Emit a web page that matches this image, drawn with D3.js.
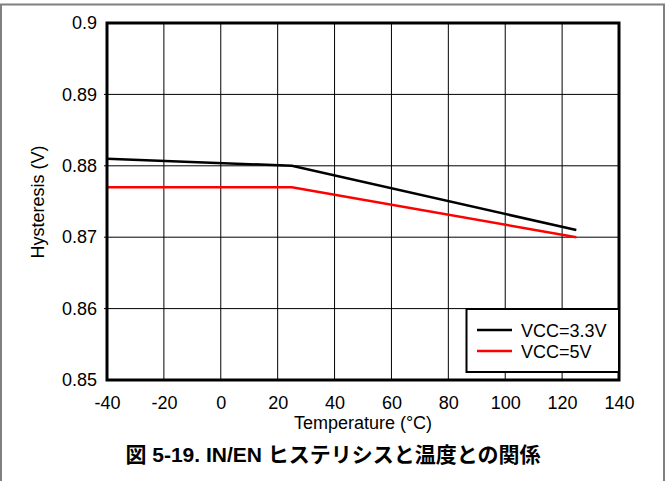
<!DOCTYPE html>
<html><head><meta charset="utf-8">
<script src="https://cdn.jsdelivr.net/npm/d3@7"></script>
<style>body{margin:0;background:#fff}svg{display:block}</style>
</head><body>
<script>
const temps33 = [-40, 25, 125];
const vals33 = [0.881, 0.880, 0.871];
const temps5 = [-40, 25, 125];
const vals5 = [0.877, 0.877, 0.870];
const seriesNames = ["VCC=3.3V", "VCC=5V"];
const seriesColors = ["#000000", "#ff0000"];
const xTicks = [-40, -20, 0, 20, 40, 60, 80, 100, 120, 140];
const yTicks = [0.85, 0.86, 0.87, 0.88, 0.89, 0.9];

const W = 666, H = 481;
const svg = d3.select("body").append("svg").attr("width", W).attr("height", H);
const font = "Arial, 'Liberation Sans', sans-serif";
const fs = 18;

// outer frame
svg.append("path").attr("d", `M1,${H+2} L1,4.5 L664,4.5 L664,${H+2}`)
  .attr("fill", "none").attr("stroke", "#808080").attr("stroke-width", 2);

const L = 107, R = 619, T = 23, B = 380;
const x = d3.scaleLinear().domain([-40, 140]).range([L, R]);
const y = d3.scaleLinear().domain([0.85, 0.9]).range([B, T]);

// grid
const g = svg.append("g");
g.selectAll(".vx").data(xTicks.slice(1, -1)).enter().append("line")
  .attr("x1", d => x(d)).attr("x2", d => x(d)).attr("y1", T).attr("y2", B)
  .attr("stroke", "#000").attr("stroke-width", 1);
g.selectAll(".hy").data(yTicks.slice(1, -1)).enter().append("line")
  .attr("x1", L - 3).attr("x2", R).attr("y1", d => y(d)).attr("y2", d => y(d))
  .attr("stroke", "#000").attr("stroke-width", 1);

// axes labels via d3 axes
const xAxis = svg.append("g").attr("transform", `translate(0,${B})`)
  .call(d3.axisBottom(x).tickValues(xTicks).tickSize(0).tickPadding(16).tickFormat(d => String(d)));
const yAxis = svg.append("g").attr("transform", `translate(${L},0)`)
  .call(d3.axisLeft(y).tickValues(yTicks).tickSize(0).tickPadding(10).tickFormat(d => d === 0.9 ? "0.9" : d3.format(".2f")(d)));
[xAxis, yAxis].forEach(a => {
  a.attr("font-size", fs).attr("font-family", font);
  a.select(".domain").remove();
  a.selectAll("text").style("font-size", fs + "px").style("font-family", font).attr("fill", "#000");
});

// lines
const line = d3.line().x(d => x(d[0])).y(d => y(d[1]));
const data = [d3.zip(temps33, vals33), d3.zip(temps5, vals5)];
svg.selectAll(".series").data(data).enter().append("path")
  .attr("d", line).attr("fill", "none")
  .attr("stroke", (d, i) => seriesColors[i]).attr("stroke-width", 2.5);

// plot border
svg.append("rect").attr("x", L).attr("y", T).attr("width", R - L).attr("height", B - T)
  .attr("fill", "none").attr("stroke", "#000").attr("stroke-width", 3);

// legend
const lg = svg.append("g");
lg.append("rect").attr("x", 466.5).attr("y", 309).attr("width", R - 466.5).attr("height", 63)
  .attr("fill", "#fff").attr("stroke", "#000").attr("stroke-width", 2);
seriesNames.forEach((n, i) => {
  const yy = 330 + i * 21;
  lg.append("line").attr("x1", 477).attr("x2", 512).attr("y1", yy).attr("y2", yy)
    .attr("stroke", seriesColors[i]).attr("stroke-width", 2.5);
  lg.append("text").attr("x", 521).attr("y", yy + 6.5).text(n)
    .style("font-family", font).style("font-size", fs + "px").attr("fill", "#000");
});

// axis titles
svg.append("text").attr("x", 363).attr("y", 429).attr("text-anchor", "middle")
  .style("font-family", font).style("font-size", fs + "px").text("Temperature (°C)");
svg.append("text").attr("transform", "translate(44,202) rotate(-90)").attr("text-anchor", "middle")
  .style("font-family", font).style("font-size", fs + "px").text("Hysteresis (V)");

// caption
svg.append("text").attr("x", 333).attr("y", 462).attr("text-anchor", "middle")
  .style("font-family", "Arial, 'Liberation Sans', 'Noto Sans CJK JP', sans-serif").attr("font-weight", "bold")
  .style("font-size", "21px").text("図 5-19. IN/EN ヒステリシスと温度との関係");
</script>
</body></html>
